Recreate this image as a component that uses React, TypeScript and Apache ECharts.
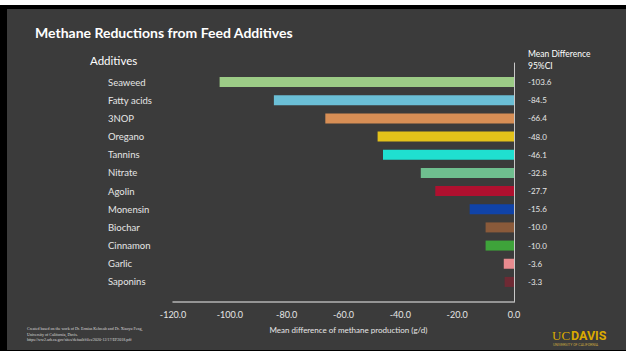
import React, { useEffect, useRef } from "react";
import * as echarts from "echarts";

const categories = ["Seaweed", "Fatty acids", "3NOP", "Oregano", "Tannins", "Nitrate", "Agolin", "Monensin", "Biochar", "Cinnamon", "Garlic", "Saponins"];
const meanDiff = [-103.6, -84.5, -66.4, -48.0, -46.1, -32.8, -27.7, -15.6, -10.0, -10.0, -3.6, -3.3];
const barColors = ["#9ccb86", "#6bbfd6", "#d78e55", "#e3c21a", "#1fe0d0", "#6fbf8f", "#b0102f", "#1043a8", "#8a5a3a", "#3ea33a", "#e88b8f", "#6e2a34"];
const xMin = -120;
const xMax = 0;
const xStep = 20;

const FONT = "Lato, 'Open Sans', sans-serif";

export default function App() {
  const ref = useRef<HTMLDivElement>(null);
  useEffect(() => {
    document.body.style.margin = "0";
    const chart = echarts.init(ref.current!, null, { renderer: "svg" });
    chart.setOption({
      animation: false,
      backgroundColor: "transparent",
      textStyle: { fontFamily: FONT },
      title: {
        text: "Methane Reductions from Feed Additives",
        left: 30,
        top: 20,
        textStyle: { color: "#ffffff", fontSize: 14, fontWeight: "bold", fontFamily: FONT },
      },
      grid: [
        { left: 173, right: 112, top: 73, height: 218 },
        { left: 173, right: 112, top: 63, height: 239 },
      ],
      xAxis: [
        { gridIndex: 0, type: "value", min: xMin, max: xMax, show: false },
        {
          gridIndex: 1,
          type: "value",
          min: xMin,
          max: xMax,
          interval: xStep,
          axisLine: { show: true, onZero: false, lineStyle: { color: "#b4b4b4", width: 1.5 } },
          axisTick: { show: false },
          splitLine: { show: false },
          axisLabel: { color: "#e6e6e6", fontSize: 9, margin: 8, formatter: (v: number) => v.toFixed(1) },
          name: "Mean difference of methane production (g/d)",
          nameLocation: "middle",
          nameGap: 24,
          nameTextStyle: { color: "#e6e6e6", fontSize: 8, padding: [0, 0, 0, 10] },
        },
      ],
      yAxis: [
        {
          gridIndex: 0,
          type: "category",
          data: categories,
          inverse: true,
          position: "left",
          axisLine: { show: false },
          axisTick: { show: false },
          axisLabel: { color: "#e6e6e6", fontSize: 9.5, align: "left", margin: 65 },
        },
        {
          gridIndex: 0,
          type: "category",
          data: meanDiff.map((v) => v.toFixed(1)),
          inverse: true,
          position: "right",
          axisLine: { show: false },
          axisTick: { show: false },
          axisLabel: { color: "#e6e6e6", fontSize: 8, align: "left", margin: 14 },
        },
        {
          gridIndex: 1,
          type: "value",
          min: 0,
          max: 1,
          position: "right",
          axisLine: { show: true, onZero: false, lineStyle: { color: "#c8c8c8", width: 1 } },
          axisTick: { show: false },
          axisLabel: { show: false },
          splitLine: { show: false },
        },
      ],
      series: [
        {
          type: "bar",
          xAxisIndex: 0,
          yAxisIndex: 0,
          barWidth: 10,
          data: meanDiff.map((v, i) => ({ value: v, itemStyle: { color: barColors[i] } })),
        },
      ],
      graphic: [
        { type: "text", left: 90, top: 54, style: { text: "Additives", fill: "#ffffff", fontSize: 11.5, fontFamily: FONT } },
        { type: "text", left: 528, top: 48, style: { text: "Mean Difference\n95%CI", fill: "#ffffff", fontSize: 8.5, lineHeight: 12, fontFamily: FONT } },
        {
          type: "text",
          left: 27,
          top: 326,
          style: {
            text: "Created based on the work of Dr. Ermias Kebreab and Dr. Xiaoyu Feng,\nUniversity of California, Davis.\nhttps://ww2.arb.ca.gov/sites/default/files/2020-12/17/EF2018.pdf",
            fill: "#dddddd",
            fontSize: 4,
            lineHeight: 5.5,
            fontFamily: "'Liberation Serif', serif",
          },
        },
        { type: "text", left: 552, top: 329, style: { text: "UC", fill: "#daaa00", fontSize: 13, fontFamily: "'Liberation Serif', serif" } },
        { type: "text", left: 571, top: 329, style: { text: "DAVIS", fill: "#daaa00", fontSize: 12.5, fontWeight: "bold", fontFamily: "Roboto, sans-serif" } },
        { type: "text", left: 553, top: 343, style: { text: "UNIVERSITY OF CALIFORNIA", fill: "#c9a640", fontSize: 3.5, fontFamily: "Roboto, sans-serif" } },
      ],
    });
    return () => chart.dispose();
  }, []);
  return (
    <div style={{ position: "relative", width: 626, height: 354, background: "#ffffff", overflow: "hidden" }}>
      <div style={{ position: "absolute", left: 0, top: 5, width: 626, height: 346, background: "#000000" }} />
      <div style={{ position: "absolute", left: 7, top: 9, width: 619, height: 341, background: "#3b3b3b" }} />
      <div ref={ref} style={{ position: "absolute", left: 0, top: 0, width: 626, height: 354 }} />
    </div>
  );
}
